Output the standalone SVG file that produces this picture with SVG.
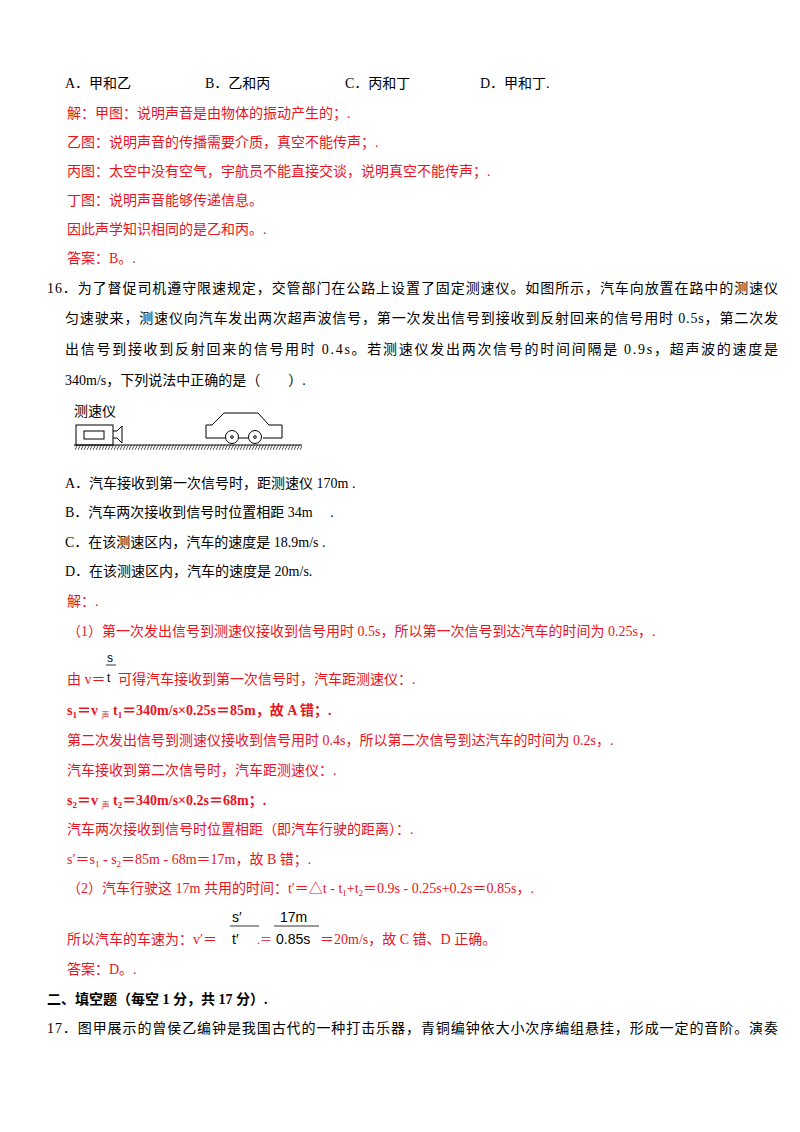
<svg xmlns="http://www.w3.org/2000/svg" width="800" height="1132" viewBox="0 0 800 1132">
<defs>
<style>
text{font-family:"Liberation Serif","Noto Sans CJK SC",serif;font-size:14px;fill:#000}
.r{fill:#e8141e}
.b{font-weight:bold}
.s{font-family:"Liberation Sans","Noto Sans CJK SC",sans-serif}
.ln{stroke:#000;stroke-width:1;fill:none}
</style>
<pattern id="h" width="3" height="6" patternUnits="userSpaceOnUse"><path d="M0,6 L3,0" stroke="#000" stroke-width="0.7"/></pattern>
</defs>
<rect width="800" height="1132" fill="#fff"/>
<text x="65" y="88">A．甲和乙</text>
<text x="205" y="88">B．乙和丙</text>
<text x="345" y="88">C．丙和丁</text>
<text x="480" y="88">D．甲和丁.</text>
<text class="r" x="67" y="118">解：甲图：说明声音是由物体的振动产生的；.</text>
<text class="r" x="67" y="147">乙图：说明声音的传播需要介质，真空不能传声；.</text>
<text class="r" x="67" y="176">丙图：太空中没有空气，宇航员不能直接交谈，说明真空不能传声；.</text>
<text class="r" x="67" y="205">丁图：说明声音能够传递信息。</text>
<text class="r" x="67" y="234">因此声学知识相同的是乙和丙。.</text>
<text class="r" x="67" y="263">答案：B。.</text>
<text x="47" y="293" textLength="731" lengthAdjust="spacing">16．为了督促司机遵守限速规定，交管部门在公路上设置了固定测速仪。如图所示，汽车向放置在路中的测速仪</text>
<text x="65" y="323" textLength="713" lengthAdjust="spacing">匀速驶来，测速仪向汽车发出两次超声波信号，第一次发出信号到接收到反射回来的信号用时 0.5s，第二次发</text>
<text x="65" y="354" textLength="713" lengthAdjust="spacing">出信号到接收到反射回来的信号用时 0.4s。若测速仪发出两次信号的时间间隔是 0.9s，超声波的速度是</text>
<text x="65" y="385">340m/s，下列说法中正确的是（　　）.</text>
<g id="figure">
<text class="s" x="74" y="416" style="font-size:14px">测速仪</text>
<rect x="76" y="425" width="37" height="20" class="ln"/>
<rect x="84" y="431" width="20" height="8" class="ln"/>
<path d="M113,431 L117,431 L122,426 L122,443 L117,438 L113,438" class="ln"/>
<rect x="74" y="445" width="228" height="5" fill="url(#h)"/>
<line x1="74" y1="445" x2="302" y2="445" stroke="#000"/>
<path d="M225,438 L206,438 L206,425 L212,425 L224,413 L258,413 L269,425 L282,425 L282,438 L263,438 M239,438 L248,438" class="ln"/>
<circle cx="232" cy="437" r="6.5" class="ln"/><circle cx="232" cy="437" r="1.3" class="ln"/>
<circle cx="255" cy="437" r="6.5" class="ln"/><circle cx="255" cy="437" r="1.3" class="ln"/>
</g>
<text x="65" y="488">A．汽车接收到第一次信号时，距测速仪 170m .</text>
<text x="65" y="517">B．汽车两次接收到信号时位置相距 34m 　.</text>
<text x="65" y="547">C．在该测速区内，汽车的速度是 18.9m/s .</text>
<text x="65" y="576">D．在该测速区内，汽车的速度是 20m/s.</text>
<text class="r" x="67" y="606">解：.</text>
<text class="r" x="67" y="636">（1）第一次发出信号到测速仪接收到信号用时 0.5s，所以第一次信号到达汽车的时间为 0.25s，.</text>
<text class="s" x="107" y="662" style="font-size:12px">s</text>
<line x1="106" y1="665" x2="116" y2="665" stroke="#000" stroke-width="0.8"/>
<text class="r" x="67" y="684">由 v＝</text>
<text class="s" x="107" y="682" style="font-size:12px">t</text>
<text class="r" x="118" y="684">可得汽车接收到第一次信号时，汽车距测速仪：.</text>
<text class="r b" x="67" y="715">s<tspan font-size="9" dy="3">1</tspan><tspan dy="-3">＝v </tspan><tspan font-size="8" font-weight="normal" dy="3">声</tspan><tspan dy="-3"> t</tspan><tspan font-size="9" dy="3">1</tspan><tspan dy="-3">＝340m/s×0.25s＝85m，故 A 错；.</tspan></text>
<text class="r" x="67" y="745">第二次发出信号到测速仪接收到信号用时 0.4s，所以第二次信号到达汽车的时间为 0.2s，.</text>
<text class="r" x="67" y="775">汽车接收到第二次信号时，汽车距测速仪：.</text>
<text class="r b" x="67" y="805">s<tspan font-size="9" dy="3">2</tspan><tspan dy="-3">＝v </tspan><tspan font-size="8" font-weight="normal" dy="3">声</tspan><tspan dy="-3"> t</tspan><tspan font-size="9" dy="3">2</tspan><tspan dy="-3">＝340m/s×0.2s＝68m；.</tspan></text>
<text class="r" x="67" y="834">汽车两次接收到信号时位置相距（即汽车行驶的距离）：.</text>
<text class="r" x="67" y="864">s′＝s<tspan font-size="9" dy="3">1</tspan><tspan dy="-3"> - s</tspan><tspan font-size="9" dy="3">2</tspan><tspan dy="-3">＝85m - 68m＝17m，故 B 错；.</tspan></text>
<text class="r" x="67" y="893">（2）汽车行驶这 17m 共用的时间：t′＝△t - t<tspan font-size="9" dy="3">1</tspan><tspan dy="-3">+t</tspan><tspan font-size="9" dy="3">2</tspan><tspan dy="-3">＝0.9s - 0.25s+0.2s＝0.85s，.</tspan></text>
<text class="s" x="232" y="922" style="font-size:14px">s′</text>
<line x1="230" y1="926" x2="259" y2="926" stroke="#000" stroke-width="0.8"/>
<text class="s" x="232" y="944" style="font-size:14px">t′</text>
<text class="s" x="280" y="922" style="font-size:14px">17m</text>
<line x1="274" y1="926" x2="319" y2="926" stroke="#000" stroke-width="0.8"/>
<text class="s" x="276" y="944" style="font-size:14px">0.85s</text>
<text class="r" x="67" y="944">所以汽车的车速为：v′＝</text>
<text class="r" x="257" y="944" style="font-size:12px">.＝</text>
<text class="r" x="320" y="944">＝20m/s，故 C 错、D 正确。</text>
<text class="r" x="67" y="974">答案：D。.</text>
<text class="b" x="47" y="1004">二、填空题（每空 1 分，共 17 分）.</text>
<text x="47" y="1033" textLength="731" lengthAdjust="spacing">17．图甲展示的曾侯乙编钟是我国古代的一种打击乐器，青铜编钟依大小次序编组悬挂，形成一定的音阶。演奏</text>
</svg>
